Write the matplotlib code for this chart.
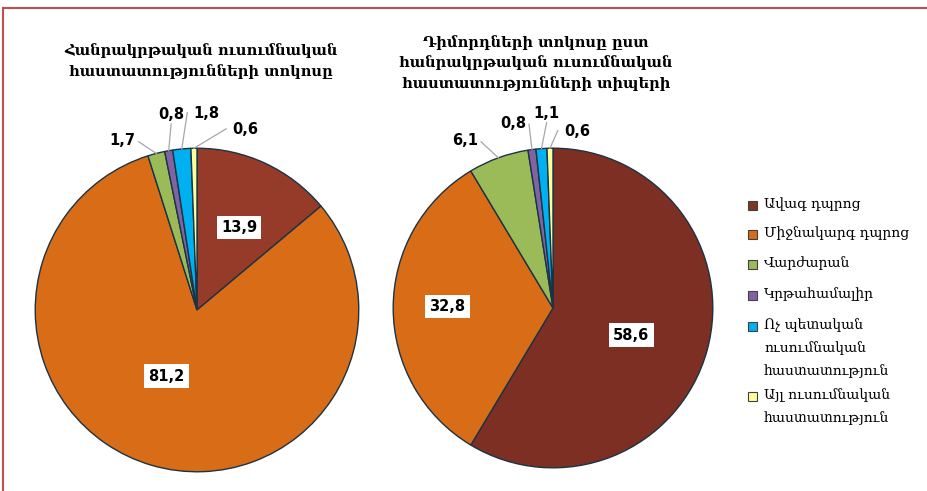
import matplotlib
matplotlib.use("Agg")
import matplotlib.pyplot as plt
from matplotlib.patches import Rectangle
from matplotlib.lines import Line2D
import numpy as np

plt.rcParams['font.family'] = ['DejaVu Serif', 'DejaVu Sans']

# ---- data ----
categories = ["Ավագ դպրոց", "Միջնակարգ դպրոց", "Վարժարան", "Կրթահամալիր",
              "Ոչ պետական ուսումնական հաստատություն",
              "Այլ ուսումնական հաստատություն"]
legend_labels = ["Ավագ դպրոց", "Միջնակարգ դպրոց", "Վարժարան", "Կրթահամալիր",
                 "Ոչ պետական\nուսումնական\nհաստատություն",
                 "Այլ ուսումնական\nհաստատություն"]
share_institutions = [13.9, 81.2, 1.7, 0.8, 1.8, 0.6]
share_applicants = [58.6, 32.8, 6.1, 0.8, 1.1, 0.6]
title_left = "Հանրակրթական ուսումնական\nհաստատությունների տոկոսը"
title_right = "Դիմորդների տոկոսը ըստ\nհանրակրթական ուսումնական\nհաստատությունների տիպերի"

colors_left = ['#963B2A', '#D96C17', '#9BBB59', '#8064A2', '#00B0F0', '#FFFF99']
colors_right = ['#7D2F23', '#D96C17', '#9BBB59', '#8064A2', '#00B0F0', '#FFFF99']
legend_colors = ['#7F3426', '#D96C17', '#9BBB59', '#8064A2', '#00B0F0', '#FFFF99']
edge = '#1A3345'

W, H = 928, 491
fig = plt.figure(figsize=(W / 100, H / 100), dpi=100)


def fmt(v):
    return f"{v:.1f}".replace('.', ',')


def add_pie_axes(cx, cy, r):
    return fig.add_axes([(cx - r) / W, (H - cy - r) / H, 2 * r / W, 2 * r / H])


def draw_pie(ax, values, colors, inside_pos, outside_pos):
    wedges, _ = ax.pie(values, colors=colors, startangle=90, counterclock=False,
                       radius=1.0, wedgeprops=dict(edgecolor=edge, linewidth=1.0))
    ax.set_xlim(-1.02, 1.02)
    ax.set_ylim(-1.02, 1.02)
    ax.set_aspect('equal')
    ax.axis('off')
    for i, w in enumerate(wedges):
        txt = fmt(values[i])
        if i in inside_pos:
            x, y = inside_pos[i]
            ax.text(x, y, txt, ha='center', va='center', fontsize=10.5, fontweight='bold',
                    color='black', family=['DejaVu Sans'],
                    bbox=dict(boxstyle='square,pad=0.3', fc='white', ec='none'))
        else:
            x, y = outside_pos[i]
            th = np.deg2rad((w.theta1 + w.theta2) / 2)
            ex, ey = np.cos(th), np.sin(th)
            if abs(x - ex) < 0.1:
                lx, ly = x, y - 0.01
            elif x < ex:
                lx, ly = x + 0.1, y + 0.04
            else:
                lx, ly = x - 0.12, y + 0.05
            ax.add_line(Line2D([ex, lx], [ey, ly], color='#A6A6A6', lw=0.9, clip_on=False))
            ax.text(x, y, txt, ha='center', va='bottom', fontsize=10.5, fontweight='bold',
                    color='black', family=['DejaVu Sans'], clip_on=False)
    return wedges


ax1 = add_pie_axes(197, 310, 165)
draw_pie(ax1, share_institutions, colors_left,
         inside_pos={0: (0.26, 0.51), 1: (-0.19, -0.41)},
         outside_pos={2: (-0.46, 1.00), 3: (-0.16, 1.16), 4: (0.06, 1.17), 5: (0.30, 1.07)})

ax2 = add_pie_axes(553, 308, 163)
draw_pie(ax2, share_applicants, colors_right,
         inside_pos={0: (0.49, -0.17), 1: (-0.66, 0.01)},
         outside_pos={2: (-0.55, 1.00), 3: (-0.25, 1.11), 4: (-0.04, 1.17), 5: (0.15, 1.06)})

fig.text(201 / W, 1 - 61 / H, title_left, ha='center', va='center', fontsize=10.5,
         fontweight='bold', linespacing=1.5)
fig.text(536 / W, 1 - 63 / H, title_right, ha='center', va='center', fontsize=10.5,
         fontweight='bold', linespacing=1.5)

# legend (manual, square aligned with first line)
rows_y = [205, 234, 264, 295, 326, 396]
for col, lab, yy in zip(legend_colors, legend_labels, rows_y):
    s = 9
    fig.add_artist(Rectangle(((748) / W, (H - yy - s / 2) / H), s / W, s / H,
                             transform=fig.transFigure, fc=col, ec='#404040', lw=0.8))
    fig.text(764 / W, 1 - (yy - 8) / H, lab, ha='left', va='top', fontsize=10,
             linespacing=1.8)

# frame lines
fig.add_artist(Line2D([3 / W, 1], [1 - 8 / H, 1 - 8 / H], transform=fig.transFigure,
                      color='#C0504D', lw=1.5))
fig.add_artist(Line2D([3 / W, 3 / W], [0, 1 - 8 / H], transform=fig.transFigure,
                      color='#C0504D', lw=1.5))

fig.savefig('out.png', dpi=100)
